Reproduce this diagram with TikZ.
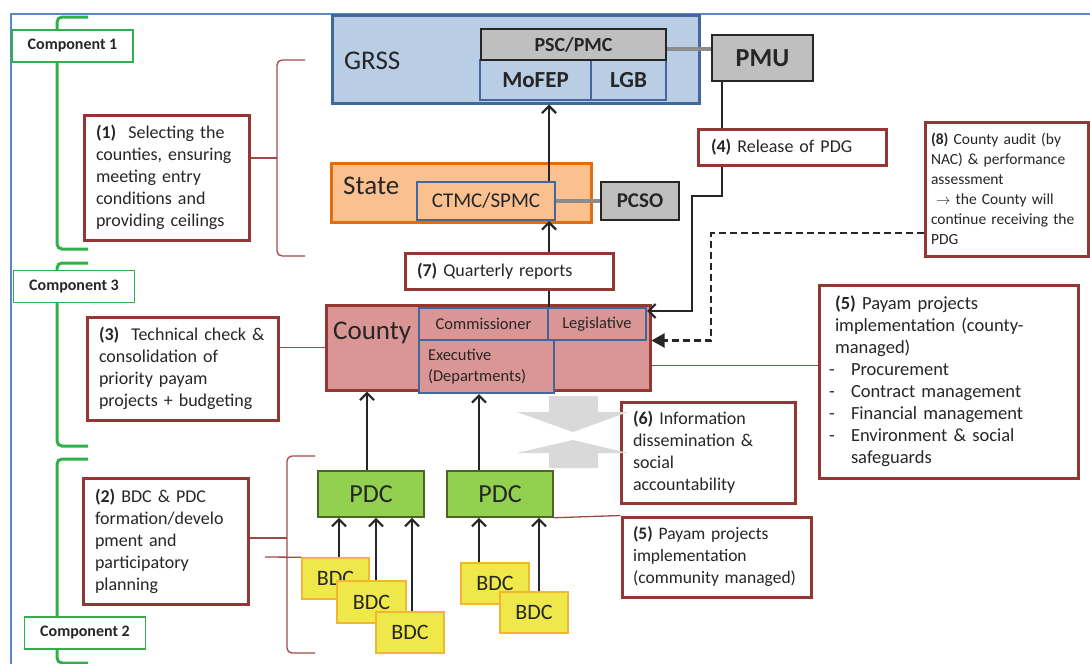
\documentclass[tikz,border=0pt]{standalone}
\usepackage{fontspec}
\setmainfont{Carlito}
\usetikzlibrary{arrows.meta,calc}

\definecolor{brn}{HTML}{943634}
\definecolor{brnline}{HTML}{A04A48}
\definecolor{frameblue}{HTML}{5B87C5}
\definecolor{grssfill}{HTML}{B9CDE5}
\definecolor{grssline}{HTML}{41679C}
\definecolor{statefill}{HTML}{FAC090}
\definecolor{stateline}{HTML}{E46C0A}
\definecolor{countyfill}{HTML}{D99694}
\definecolor{grayfill}{HTML}{BFBFBF}
\definecolor{linkgray}{HTML}{8C8C8C}
\definecolor{pdcfill}{HTML}{92D050}
\definecolor{pdcline}{HTML}{4F6228}
\definecolor{bdcfill}{HTML}{EEE84A}
\definecolor{bdcline}{HTML}{F2B632}
\definecolor{compgreen}{HTML}{30B04A}
\definecolor{flowgray}{HTML}{D9D9D9}
\definecolor{ink}{HTML}{262626}

\tikzset{
  note/.style={draw=brn, line width=3pt, fill=white, align=left, inner ysep=0pt,
    text=ink, font=\fontsize{18}{22}\selectfont},
  comp/.style={draw=compgreen, line width=1.5pt, fill=white, text=ink,
    font=\bfseries\fontsize{16}{19}\selectfont, minimum width=121pt, minimum height=32pt, inner sep=0pt},
  compbr/.style={draw=compgreen, line width=3pt, rounded corners=5pt},
  brbr/.style={draw=brnline, line width=1.3pt, rounded corners=5pt},
  brline/.style={draw=brnline, line width=1.3pt},
  level/.style={line width=3pt, inner sep=0pt},
  unit/.style={draw=grssline, line width=2pt, inner sep=0pt, text=ink},
  graybox/.style={draw=ink, line width=2pt, fill=grayfill, inner sep=0pt, text=ink},
  pdcbox/.style={draw=pdcline, line width=1.5pt, fill=pdcfill, inner sep=0pt, text=ink,
    font=\fontsize{26}{30}\selectfont, minimum width=106pt, minimum height=46pt},
  bdcbox/.style={draw=bdcline, line width=1.5pt, fill=bdcfill, inner sep=0pt, text=ink,
    font=\fontsize{22}{26}\selectfont, minimum width=68pt, minimum height=41pt},
  arr/.style={draw=ink, line width=2.2pt, -{Straight Barb[length=7pt,width=14pt,line width=2.2pt]}},
  dasharr/.style={draw=ink, line width=2.2pt, dash pattern=on 7pt off 4pt, -{Triangle[length=13pt,width=14pt]}},
  link/.style={draw=linkgray, line width=4pt},
}

\begin{document}
\begin{tikzpicture}[x=1pt,y=-1pt]
\useasboundingbox (0,0) rectangle (1090,664);
\fill[white] (0,0) rectangle (1090,664);

% outer frame
\draw[frameblue, line width=1.5pt] (11,700) -- (11,14) -- (1100,14);

% component brackets
\draw[compbr] (88,17) -- (57,17) -- (57,249) -- (88,249);
\draw[compbr] (88,263) -- (57,263) -- (57,446) -- (88,446);
\draw[compbr] (88,459) -- (57,459) -- (57,663) -- (88,663);
\node[comp] (c1) at (72.5,46) {Component 1};
\node[comp] (c3) at (74,286.5) {Component 3};
\node[comp] (c2) at (85,633) {Component 2};

% brackets grouping the levels
\draw[brbr] (305,60) -- (277,60) -- (277,256) -- (305,256);
\coordinate (br1) at (277,158);
\draw[brbr] (315,456) -- (287,456) -- (287,653) -- (315,653);
\coordinate (br2) at (287,538);
\coordinate (br2b) at (265,557);

% GRSS level
\node[level, draw=grssline, fill=grssfill, minimum width=367pt, minimum height=88pt] (grss) at (515.5,59) {};
\node[anchor=base west, inner sep=0pt, text=ink, font=\fontsize{27}{32}\selectfont] (grsslbl) at (344,69) {GRSS};
\node[unit, fill=grssfill, minimum width=111pt, minimum height=40pt, font=\bfseries\fontsize{23}{27}\selectfont] (mofep) at (535.5,80) {MoFEP};
\node[unit, fill=grssfill, minimum width=75pt, minimum height=40pt, font=\bfseries\fontsize{23}{27}\selectfont] (lgb) at (628.5,80) {LGB};
\node[graybox, minimum width=185pt, minimum height=31pt, font=\bfseries\fontsize{20}{24}\selectfont] (psc) at (573.5,44.5) {PSC/PMC};
\node[graybox, minimum width=101pt, minimum height=46pt, font=\bfseries\fontsize{26}{30}\selectfont] (pmu) at (762.5,58) {PMU};
\coordinate (g1) at ([yshift=-4pt]psc.east);
\draw[link] (g1) -- (g1 -| pmu.west);

% State level
\node[level, draw=stateline, fill=statefill, minimum width=260pt, minimum height=59pt] (state) at (461,192.5) {};
\node[anchor=base west, inner sep=0pt, text=ink, font=\fontsize{27}{32}\selectfont] (statelbl) at (343,194) {State};
\node[unit, fill=statefill, minimum width=138pt, minimum height=38pt, font=\fontsize{21}{25}\selectfont] (ctmc) at (486,201) {CTMC/SPMC};
\node[graybox, minimum width=78pt, minimum height=38pt, font=\bfseries\fontsize{21}{25}\selectfont] (pcso) at (640,201) {PCSO};
\draw[link] (ctmc.east) -- (pcso.west);

% County level
\node[level, draw=brn, fill=countyfill, minimum width=324pt, minimum height=85pt] (county) at (488,347.5) {};
\node[anchor=base west, inner sep=0pt, text=ink, font=\fontsize{27}{32}\selectfont] (countylbl) at (333,339) {County};
\node[unit, fill=countyfill, minimum width=129pt, minimum height=32pt, font=\fontsize{16.5}{21}\selectfont] (comm) at (483.5,324) {Commissioner};
\node[unit, fill=countyfill, minimum width=98pt, minimum height=32pt, font=\fontsize{16.5}{21}\selectfont] (leg) at (597,324) {Legislative};
\node[unit, fill=countyfill, minimum width=135pt, minimum height=53pt, align=left, text width=117pt, font=\fontsize{16.5}{21.5}\selectfont] (exec) at (486.5,366.5) {Executive\\(Departments)};

% Payam and boma committees
\node[pdcbox] (pdc1) at (371,494) {PDC};
\node[pdcbox] (pdc2) at (500,494) {PDC};
\node[bdcbox, minimum width=67pt] (bdc1) at (335.5,578.5) {BDC};
\node[bdcbox, minimum width=69pt, minimum height=42pt] (bdc2) at (371.5,602) {BDC};
\node[bdcbox] (bdc3) at (410,632.5) {BDC};
\node[bdcbox] (bdc4) at (495,583.5) {BDC};
\node[bdcbox] (bdc5) at (534,612.5) {BDC};

% upward reporting
\coordinate (a1) at ([xshift=-4pt]pdc1.north);
\draw[arr] (a1) -- (a1 |- county.south);
\coordinate (a2) at ([xshift=-21pt]pdc2.north);
\draw[arr] (a2) -- (a2 |- exec.south);
\coordinate (b1) at ([xshift=3.5pt]bdc1.north);
\draw[arr] (b1) -- (b1 |- pdc1.south);
\coordinate (b2) at ([xshift=4.5pt]bdc2.north);
\draw[arr] (b2) -- (b2 |- pdc1.south);
\coordinate (b3) at ([xshift=2pt]bdc3.north);
\draw[arr] (b3) -- (b3 |- pdc1.south);
\coordinate (b4) at ([xshift=-16pt]bdc4.north);
\draw[arr] (b4) -- (b4 |- pdc2.south);
\coordinate (b5) at ([xshift=5pt]bdc5.north);
\draw[arr] (b5) -- (b5 |- pdc2.south);
\coordinate (s1) at ([xshift=-7pt]ctmc.north east);
\draw[arr] (s1) -- (s1 |- grss.south);
\draw[arr] (comm.north east) -- (comm.north east |- ctmc.south);

% grant release path
\coordinate (p1) at ([xshift=11pt]pmu.south west);
\coordinate (k1) at (692,196);
\coordinate (lg) at ([yshift=-4pt]leg.north east);
\draw[arr] (p1) -- (p1 |- k1) -- (k1) -- (k1 |- lg) -- (lg);

% notes
\node[note, inner xsep=12pt, text width=141pt, minimum width=165pt, minimum height=125pt] (sel1) at (166.5,177.5)
  {\textbf{(1)}\ \ Selecting the\\counties, ensuring\\meeting entry\\conditions and\\providing ceilings};
\node[note, inner xsep=12pt, text width=167pt, minimum width=191pt, minimum height=103pt] (tc3) at (182.5,368.5)
  {\textbf{(3)}\ \ Technical check \&\\consolidation of\\priority payam\\projects + budgeting};
\node[note, inner xsep=12pt, text width=141pt, minimum width=165pt, minimum height=126pt] (p2) at (165.5,541)
  {\textbf{(2)} BDC \& PDC\\formation/develo\\pment and\\participatory\\planning};
\node[note, inner xsep=13pt, text width=162pt, minimum width=188pt, minimum height=36pt] (rel4) at (792,147)
  {\textbf{(4)} Release of PDG};
\node[note, inner xsep=12pt, text width=184pt, minimum width=208pt, minimum height=36pt] (q7) at (509,271)
  {\textbf{(7)} Quarterly reports};
\node[note, inner xsep=6pt, text width=151pt, minimum width=163pt, minimum height=134pt, font=\fontsize{15.5}{20}\selectfont] (audit8) at (1006.5,189)
  {\textbf{(8)} County audit (by\\NAC) \& performance\\assessment\\\ \ensuremath{\rightarrow} the County will\\continue receiving the\\PDG};
\node[note, inner xsep=10pt, text width=239pt, minimum width=259pt, minimum height=193pt, font=\fontsize{18.5}{22}\selectfont] (cm5) at (948.5,381.5)
  {\hspace*{6pt}\textbf{(5)} Payam projects\\
   \hspace*{6pt}implementation (county-\\
   \hspace*{6pt}managed)\\
   \makebox[22pt][l]{-}Procurement\\
   \makebox[22pt][l]{-}Contract management\\
   \makebox[22pt][l]{-}Financial management\\
   \makebox[22pt][l]{-}Environment \& social\\
   \hspace*{22pt}safeguards};
\node[note, inner xsep=12pt, text width=150pt, minimum width=174pt, minimum height=101pt] (info6) at (708,452.5)
  {\textbf{(6)} Information\\dissemination \&\\social\\accountability};
\node[note, inner xsep=11pt, text width=167pt, minimum width=189pt, minimum height=80pt, font=\fontsize{17.5}{22}\selectfont] (cc5) at (716.5,557)
  {\textbf{(5)} Payam projects\\implementation\\(community managed)};

% links from notes
\draw[brline] (sel1.east |- br1) -- (br1);
\draw[brline] (tc3.east |- county.west) -- (county.west);
\draw[brline] (p2.east |- br2) -- (br2);
\draw[brline] (br2b) -- (bdc1.north west);
\coordinate (ce2) at ([yshift=-18pt]county.east);
\draw[brline] (ce2) -- (ce2 -| cm5.west);
\draw[brline] (pdc2.south east) -- (cc5.north west);

% audit feedback
\coordinate (dk) at (711,233);
\coordinate (ce) at ([yshift=7pt]county.east);
\draw[dasharr] (audit8.west |- dk) -- (dk) -- (dk |- ce) -- (ce);

% information flow in both directions
\fill[flowgray] (549,396) -- (598,396) -- (598,412) -- (628,412) -- (573,432) -- (517,412) -- (549,412) -- cycle;
\fill[flowgray] (573,440) -- (628,453) -- (598,453) -- (598,468) -- (549,468) -- (549,453) -- (517,453) -- cycle;
\end{tikzpicture}
\end{document}
